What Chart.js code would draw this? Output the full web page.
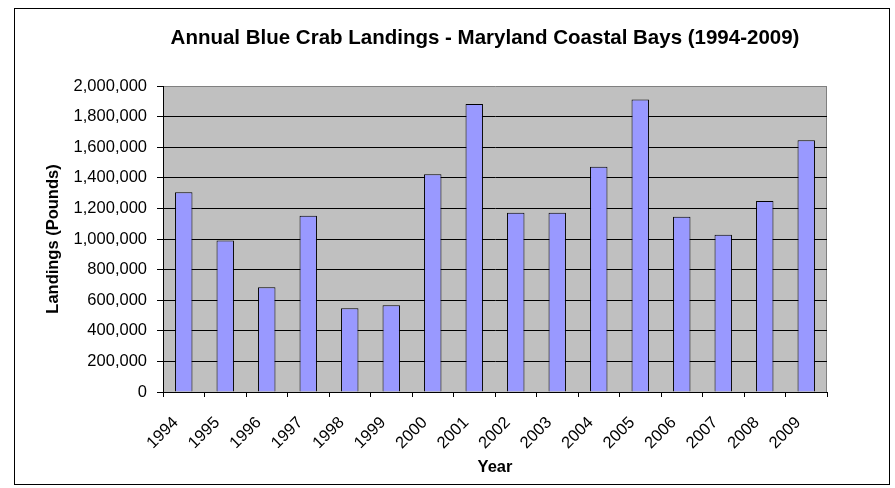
<!DOCTYPE html>
<html>
<head>
<meta charset="utf-8">
<script src="https://cdn.jsdelivr.net/npm/chart.js@4.4.1/dist/chart.umd.min.js"></script>
<style>
  html, body { margin: 0; padding: 0; background: #fff; }
  #wrap { position: relative; width: 895px; height: 488px; }
</style>
</head>
<body>
<div id="wrap"><canvas id="crabChart" width="895" height="488"></canvas></div>
<script>
const years = ['1994', '1995', '1996', '1997', '1998', '1999', '2000', '2001',
               '2002', '2003', '2004', '2005', '2006', '2007', '2008', '2009'];
const landings = [1305000, 991000, 684000, 1152000, 547000, 567000, 1423000, 1882000,
                  1172000, 1172000, 1473000, 1911000, 1146000, 1028000, 1248000, 1645000];
const yTicks = [0, 200000, 400000, 600000, 800000, 1000000, 1200000, 1400000, 1600000, 1800000, 2000000];

const chartTitle = 'Annual Blue Crab Landings - Maryland Coastal Bays (1994-2009)';
const fontFamily = '"Liberation Sans", Arial, sans-serif';
const tickSize = 16.5;

// grey plot area, frame round the whole chart, title text
const excelLook = {
    id: 'excelLook',
    beforeDraw(chart) {
        const { ctx, chartArea: a } = chart;
        ctx.save();
        ctx.fillStyle = '#C0C0C0';
        ctx.fillRect(a.left, a.top, a.right - a.left, a.bottom - a.top);
        ctx.strokeStyle = '#808080';
        ctx.lineWidth = 1;
        ctx.beginPath();
        ctx.moveTo(a.right - 0.5, a.top);
        ctx.lineTo(a.right - 0.5, a.bottom);
        ctx.stroke();
        ctx.restore();
    },
    afterDraw(chart) {
        const ctx = chart.ctx;
        ctx.save();
        ctx.strokeStyle = '#000';
        ctx.lineWidth = 1;
        ctx.strokeRect(14.5, 8.5, 875, 476);
        ctx.fillStyle = '#000';
        ctx.font = 'bold 20.5px ' + fontFamily;
        ctx.textAlign = 'center';
        ctx.textBaseline = 'middle';
        ctx.fillText(chartTitle, 485, 38);
        ctx.restore();
    }
};

new Chart(document.getElementById('crabChart'), {
    type: 'bar',
    data: {
        labels: years,
        datasets: [{
            label: 'Landings (Pounds)',
            data: landings,
            backgroundColor: '#9999FF',
            borderColor: '#000000',
            borderWidth: 1,
            categoryPercentage: 1,
            barPercentage: 0.42
        }]
    },
    options: {
        responsive: false,
        animation: false,
        devicePixelRatio: 1,
        layout: { padding: { top: 86, right: 68, bottom: 0, left: 0 } },
        plugins: {
            legend: { display: false },
            title: { display: false },
            tooltip: { enabled: false }
        },
        scales: {
            x: {
                offset: true,
                afterFit: (scale) => { scale.height = 96; },
                grid: {
                    offset: true,
                    drawOnChartArea: false,
                    drawTicks: true,
                    tickLength: 5,
                    tickColor: '#000'
                },
                border: { display: true, color: '#000' },
                ticks: {
                    maxRotation: 45,
                    minRotation: 45,
                    autoSkip: false,
                    padding: 16,
                    labelOffset: -8,
                    color: '#000',
                    font: { family: fontFamily, size: tickSize }
                },
                title: {
                    display: true,
                    text: 'Year',
                    color: '#000',
                    padding: { top: 0, bottom: 10.5 },
                    font: { family: fontFamily, size: tickSize, weight: 'bold' }
                }
            },
            y: {
                min: 0,
                max: 2000000,
                afterFit: (scale) => { scale.width = 163; },
                afterBuildTicks: (scale) => { scale.ticks = yTicks.map(v => ({ value: v })); },
                grid: {
                    color: (c) => (c.tick && c.tick.value === 2000000 ? '#808080' : '#000'),
                    lineWidth: 1,
                    drawTicks: true,
                    tickLength: 6,
                    tickColor: '#000'
                },
                border: { display: true, color: '#000' },
                ticks: {
                    padding: 10,
                    color: '#000',
                    font: { family: fontFamily, size: tickSize },
                    callback: (v) => v.toLocaleString('en-US')
                },
                title: {
                    display: true,
                    text: 'Landings (Pounds)',
                    color: '#000',
                    padding: { top: 44, bottom: 0 },
                    font: { family: fontFamily, size: tickSize, weight: 'bold' }
                }
            }
        }
    },
    plugins: [excelLook]
});
</script>
</body>
</html>
